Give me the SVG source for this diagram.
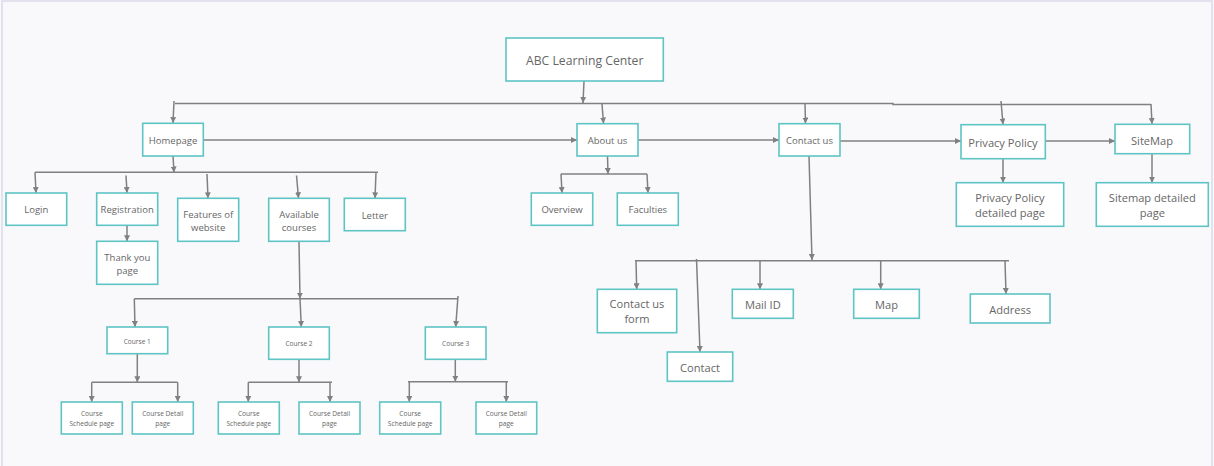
<svg xmlns="http://www.w3.org/2000/svg" width="1214" height="466" viewBox="0 0 1214 466">
<style>
.bg{fill:#f9f9fb}
.frame{stroke:#e3e1ee;stroke-width:2;fill:none}
.box{fill:#ffffff;stroke:#5ec4c4;stroke-width:1.6}
text{font-family:"Open Sans","Noto Sans","Liberation Sans",sans-serif;fill:#666666;text-anchor:middle;dominant-baseline:central}
.t14{font-size:12.2px}
.t11{font-size:11.1px}
.t9{font-size:9.5px}
.t6{font-size:6.6px}
.c{fill:none;stroke:#808080;stroke-width:1.5}
.a{marker-end:url(#arr)}
</style>
<defs>
<marker id="arr" viewBox="0 0 10 10" refX="10" refY="5" markerWidth="6" markerHeight="6" markerUnits="userSpaceOnUse" orient="auto">
<path d="M0,0 L10,5 L0,10 z" fill="#808080"/>
</marker>
</defs>
<rect class="bg" x="0" y="0" width="1214" height="466"/>
<path class="frame" d="M2,466 V1 H1212 V466"/>

<g id="connectors">
<path class="c a" d="M584,81 L583,103"/>
<path class="c" d="M175,103.5 H893 V104.5 H1151"/>
<path class="c a" d="M174,101 L173,123"/>
<path class="c a" d="M602,104 L603.5,123.5"/>
<path class="c a" d="M805,103 L805.5,123.5"/>
<path class="c a" d="M1001,101 L1003,124.5"/>
<path class="c a" d="M1151,104 L1152,124"/>
<path class="c a" d="M203,140 H577"/>
<path class="c a" d="M638,140 H779"/>
<path class="c a" d="M840,141 H961"/>
<path class="c a" d="M1045,141 H1115"/>
<path class="c a" d="M173,156 L174,172.5"/>
<path class="c" d="M35,172.3 H378"/>
<path class="c a" d="M35,172.3 L36,193"/>
<path class="c a" d="M126,175.5 L127,193"/>
<path class="c a" d="M127,225.5 V241.3"/>
<path class="c a" d="M207,174 L208,198.3"/>
<path class="c a" d="M296.5,175.5 L298.5,198.3"/>
<path class="c a" d="M376,172.3 L375,198.3"/>
<path class="c a" d="M607.5,156 L608,174"/>
<path class="c" d="M561,174 H647"/>
<path class="c a" d="M561,174 L562,193"/>
<path class="c a" d="M647,174 L648,193"/>
<path class="c a" d="M1003,158.7 V182.7"/>
<path class="c a" d="M1152,153.7 V182.7"/>
<path class="c a" d="M809,156 L812,260"/>
<path class="c" d="M635,260.7 H1009"/>
<path class="c a" d="M636,260.7 L636.7,289.3"/>
<path class="c a" d="M696.5,259 L700,352"/>
<path class="c a" d="M760,260.7 V289.3"/>
<path class="c a" d="M880.7,260.7 V289.3"/>
<path class="c a" d="M1005,260.7 L1006,294"/>
<path class="c a" d="M299,241.3 L300,298.7"/>
<path class="c" d="M134.3,298.7 H458"/>
<path class="c a" d="M134.3,298.7 L135,327"/>
<path class="c a" d="M300,298.7 L301.3,327"/>
<path class="c a" d="M458,296 L455.7,327"/>
<path class="c a" d="M137.3,353.7 V382.3"/>
<path class="c" d="M91.7,382.3 H177.7"/>
<path class="c a" d="M91.7,382.3 V402"/>
<path class="c a" d="M177.7,382.3 V402"/>
<path class="c a" d="M299,359.3 V382.3"/>
<path class="c" d="M248.3,382.3 H332"/>
<path class="c a" d="M248.3,382.3 V402"/>
<path class="c a" d="M330,382.3 V402"/>
<path class="c a" d="M455.3,359.3 V381.7"/>
<path class="c" d="M408,381.7 H508"/>
<path class="c a" d="M409.3,381.7 V402"/>
<path class="c a" d="M506.3,381.7 V402"/>
</g>

<g id="n-abc"><rect class="box" x="506" y="38" width="157.3" height="43"/><text class="t14" x="584.7" y="60.5">ABC Learning Center</text></g>
<g id="n-homepage"><rect class="box" x="142.7" y="123.3" width="60.6" height="32.7"/><text class="t9" x="173" y="140">Homepage</text></g>
<g id="n-about"><rect class="box" x="577" y="123.7" width="61" height="32.3"/><text class="t9" x="607.5" y="140">About us</text></g>
<g id="n-contact-us"><rect class="box" x="779" y="123.7" width="61" height="32.3"/><text class="t9" x="809.5" y="140">Contact us</text></g>
<g id="n-privacy"><rect class="box" x="961" y="124.7" width="84.3" height="34"/><text class="t11" x="1003" y="142">Privacy Policy</text></g>
<g id="n-sitemap"><rect class="box" x="1115" y="124.3" width="74.7" height="29.4"/><text class="t11" x="1152" y="140">SiteMap</text></g>

<g id="n-login"><rect class="box" x="6" y="193" width="60.7" height="32.3"/><text class="t9" x="36.3" y="209.7">Login</text></g>
<g id="n-registration"><rect class="box" x="96.7" y="193" width="61" height="32.3"/><text class="t9" x="127.2" y="209.7">Registration</text></g>
<g id="n-thankyou"><rect class="box" x="96.7" y="241.3" width="61" height="43"/><text class="t9" x="127.3" y="257">Thank you</text><text class="t9" x="127.3" y="270.7">page</text></g>
<g id="n-features"><rect class="box" x="177.7" y="198.3" width="61" height="43"/><text class="t9" x="208.2" y="214">Features of</text><text class="t9" x="208.2" y="227.7">website</text></g>
<g id="n-available"><rect class="box" x="268.7" y="198.3" width="60.6" height="43"/><text class="t9" x="299" y="214">Available</text><text class="t9" x="299" y="227.7">courses</text></g>
<g id="n-letter"><rect class="box" x="344.3" y="198.3" width="61" height="32.4"/><text class="t9" x="374.8" y="215">Letter</text></g>

<g id="n-overview"><rect class="box" x="531.3" y="193" width="61.4" height="32.3"/><text class="t9" x="562" y="209.7">Overview</text></g>
<g id="n-faculties"><rect class="box" x="617.3" y="193" width="61" height="32.3"/><text class="t9" x="647.8" y="209.7">Faculties</text></g>

<g id="n-pp-detail"><rect class="box" x="956.3" y="182.7" width="107.4" height="43.6"/><text class="t11" x="1010" y="197.3">Privacy Policy</text><text class="t11" x="1010" y="212.7">detailed page</text></g>
<g id="n-sm-detail"><rect class="box" x="1096.3" y="182.7" width="112" height="43.6"/><text class="t11" x="1152.3" y="197.3">Sitemap detailed</text><text class="t11" x="1152.3" y="212.7">page</text></g>

<g id="n-contact-form"><rect class="box" x="597.3" y="289.3" width="79.4" height="43.4"/><text class="t11" x="637" y="303">Contact us</text><text class="t11" x="637" y="318.7">form</text></g>
<g id="n-contact"><rect class="box" x="667.3" y="352" width="65.4" height="29.3"/><text class="t11" x="700" y="367">Contact</text></g>
<g id="n-mail"><rect class="box" x="732.3" y="289.3" width="61" height="29"/><text class="t11" x="762.8" y="304.3">Mail ID</text></g>
<g id="n-map"><rect class="box" x="853.7" y="289.3" width="65.6" height="29"/><text class="t11" x="886.5" y="304.3">Map</text></g>
<g id="n-address"><rect class="box" x="970.3" y="294" width="79.7" height="29"/><text class="t11" x="1010.2" y="309">Address</text></g>

<g id="n-course1"><rect class="box" x="107" y="327" width="60.7" height="26.7"/><text class="t6" x="137.3" y="341">Course 1</text></g>
<g id="n-course2"><rect class="box" x="268.7" y="327" width="60.6" height="32.3"/><text class="t6" x="299" y="343.5">Course 2</text></g>
<g id="n-course3"><rect class="box" x="425.3" y="327" width="60.7" height="32.3"/><text class="t6" x="455.7" y="343.5">Course 3</text></g>

<g id="n-c1-schedule"><rect class="box" x="61.3" y="402" width="61" height="32"/><text class="t6" x="91.8" y="413.7">Course</text><text class="t6" x="91.8" y="423.5">Schedule page</text></g>
<g id="n-c1-detail"><rect class="box" x="132.3" y="402" width="61" height="32"/><text class="t6" x="162.8" y="413.7">Course Detail</text><text class="t6" x="162.8" y="423.5">page</text></g>
<g id="n-c2-schedule"><rect class="box" x="218.3" y="402" width="61" height="32"/><text class="t6" x="248.8" y="413.7">Course</text><text class="t6" x="248.8" y="423.5">Schedule page</text></g>
<g id="n-c2-detail"><rect class="box" x="299" y="402" width="61" height="32"/><text class="t6" x="329.5" y="413.7">Course Detail</text><text class="t6" x="329.5" y="423.5">page</text></g>
<g id="n-c3-schedule"><rect class="box" x="379.7" y="402" width="61" height="32"/><text class="t6" x="410.2" y="413.7">Course</text><text class="t6" x="410.2" y="423.5">Schedule page</text></g>
<g id="n-c3-detail"><rect class="box" x="476" y="402" width="60.7" height="32"/><text class="t6" x="506.3" y="413.7">Course Detail</text><text class="t6" x="506.3" y="423.5">page</text></g>
</svg>
